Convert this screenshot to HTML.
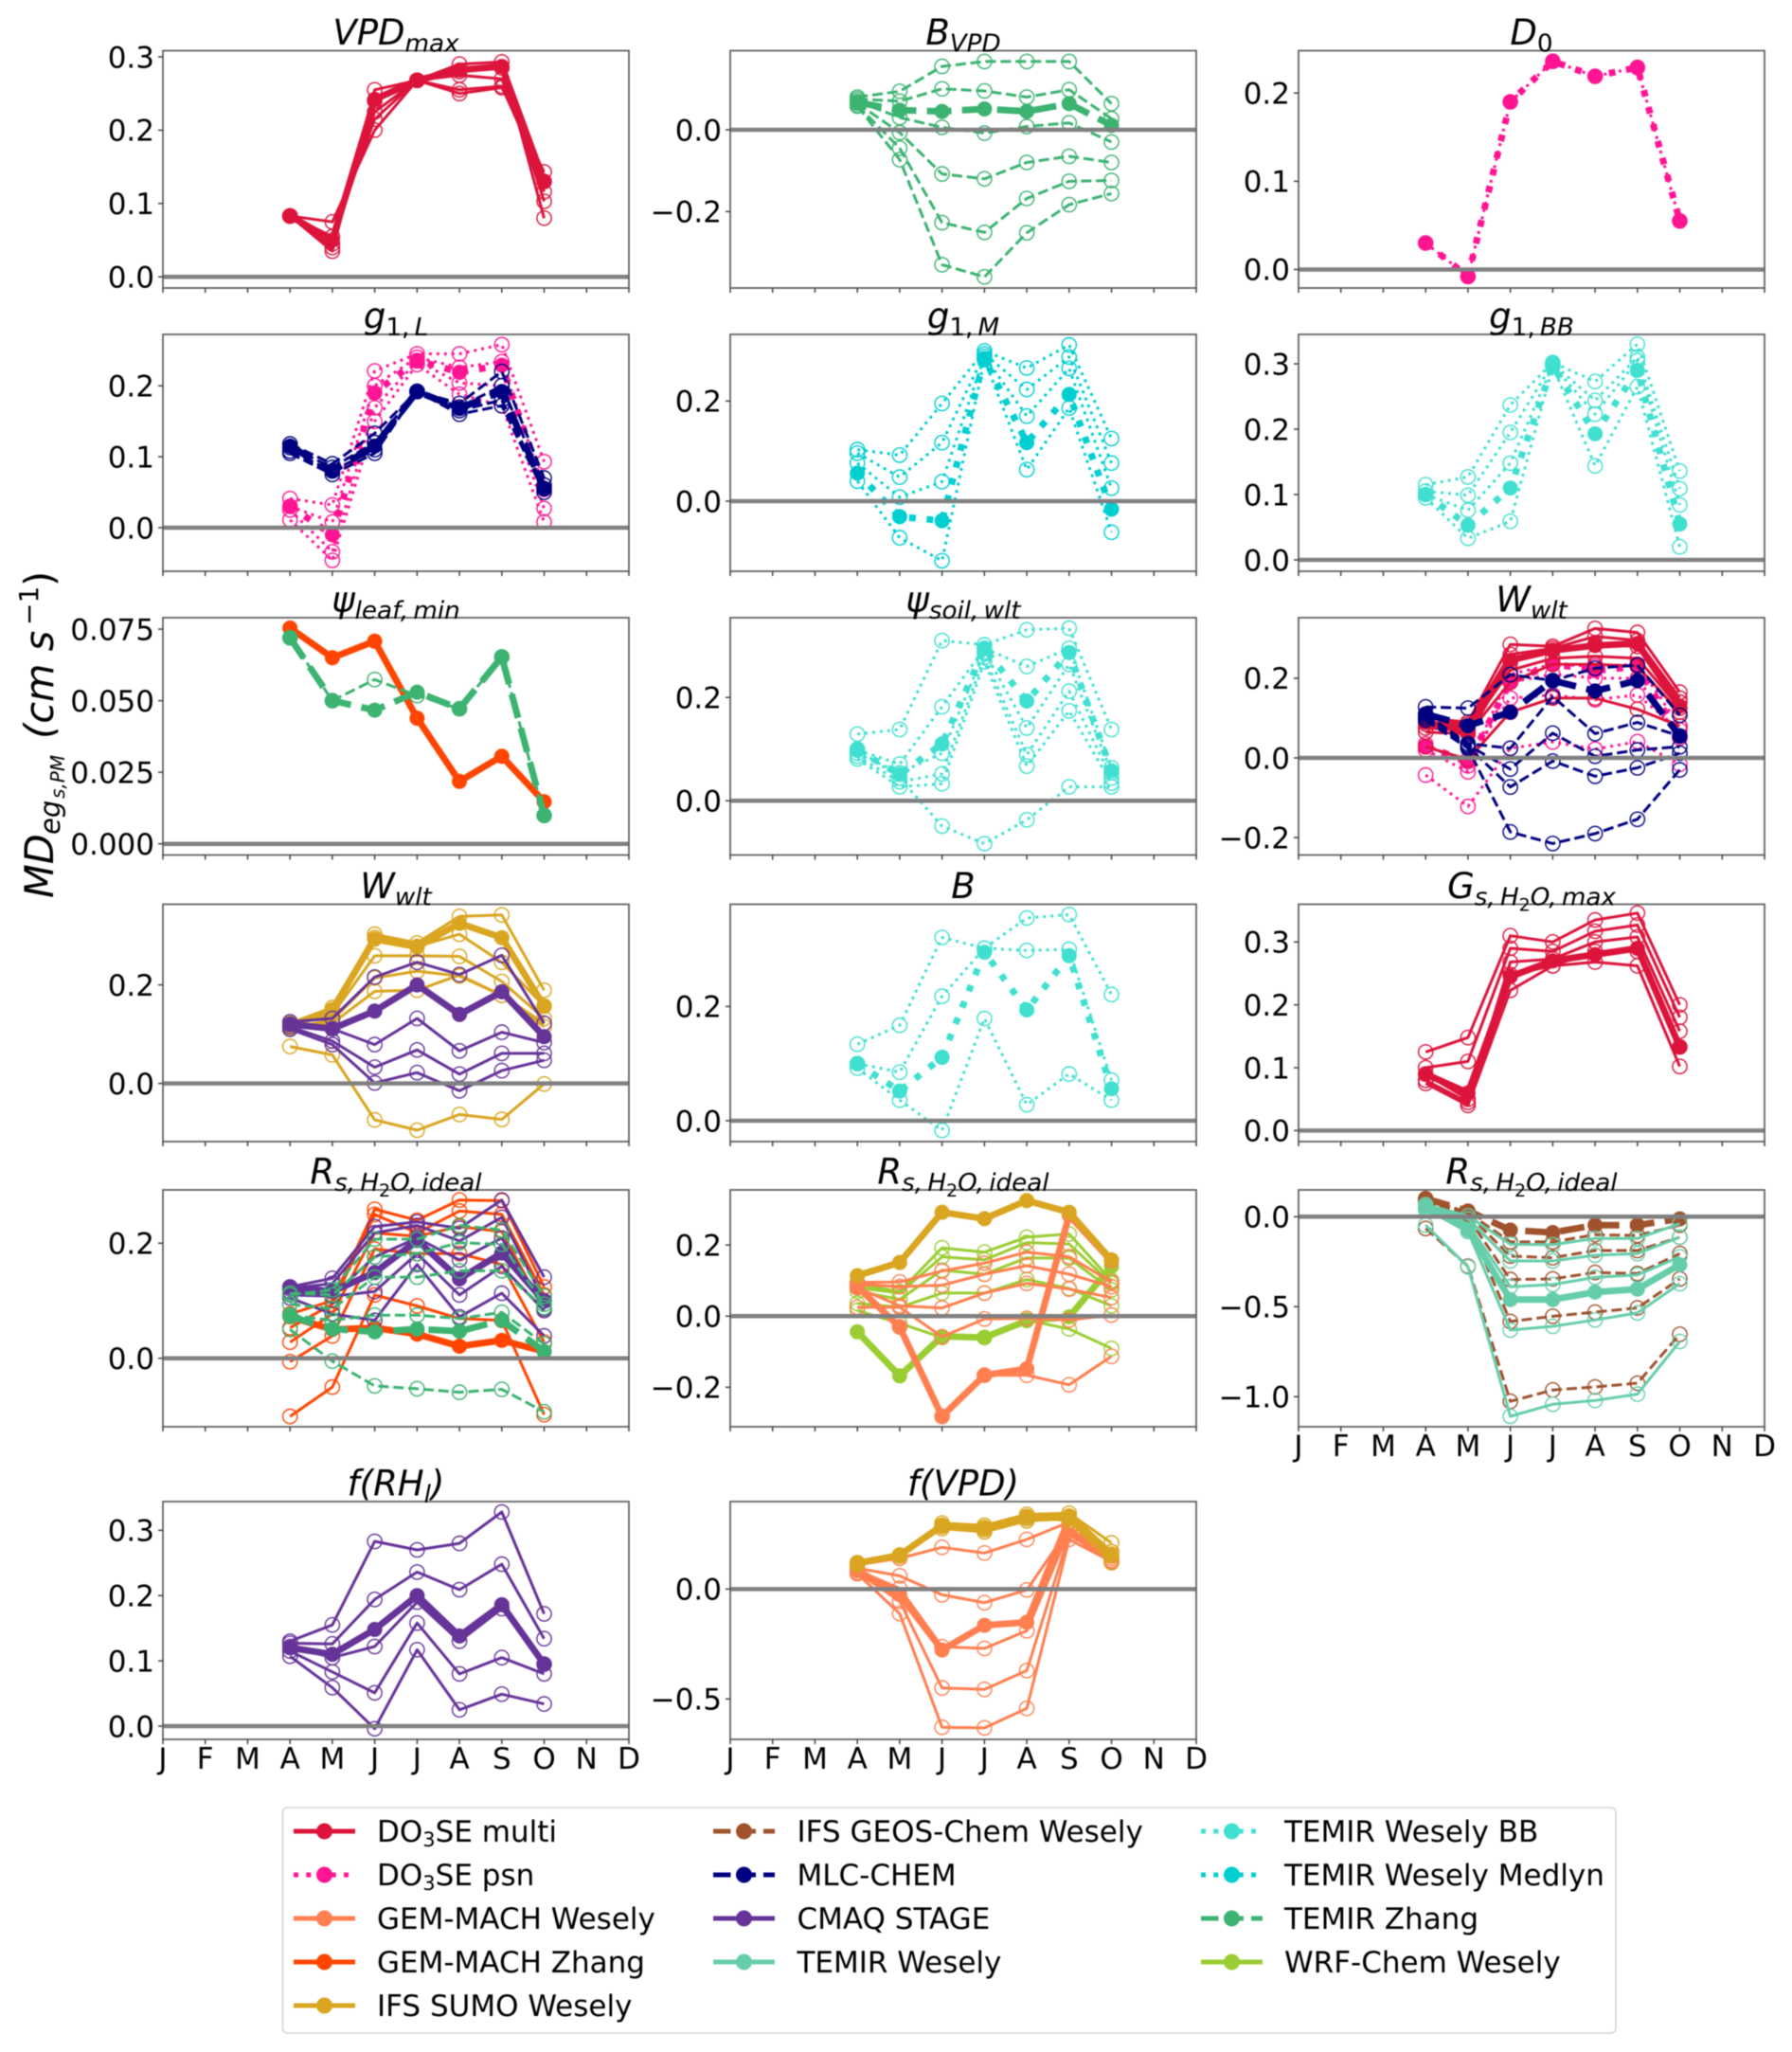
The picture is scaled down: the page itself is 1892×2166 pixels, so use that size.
<!DOCTYPE html>
<html lang="en">
<head>
<meta charset="utf-8">
<title>Monthly MD of stomatal conductance sensitivity panels</title>
<style>
html,body{margin:0;padding:0;background:#fff;}
svg{display:block;font-family:"DejaVu Sans","Liberation Sans",sans-serif;filter:blur(0.45px);}
.lg{font-size:31px;fill:#000;}
</style>
</head>
<body>
<svg id="chart" xmlns="http://www.w3.org/2000/svg" width="1892" height="2166" viewBox="0 0 1892 2166">
<rect width="1892" height="2166" fill="#fff"/>
<g id="panels"></g>

<text transform="translate(56,948) rotate(-90)" font-style="italic" font-size="41.5" fill="#000"><tspan x="0" y="0">MD</tspan><tspan x="67" y="7" font-size="29">eg</tspan><tspan x="105" y="12" font-size="20">s,PM</tspan><tspan x="168" y="0">(cm s</tspan><tspan x="288" y="-16" font-size="28" font-style="normal">−1</tspan><tspan x="329" y="0" font-style="normal">)</tspan></text>

<g>
<rect x="298.5" y="1908" width="1407.5" height="238" rx="5" fill="#fff" stroke="#d4d4d4" stroke-width="1.6"/>
<g><line x1="310" x2="375" y1="1933" y2="1933" stroke="#DC143C" stroke-width="5"/><circle cx="342.5" cy="1933" r="8.5" fill="#DC143C"/><text class="lg" x="398" y="1944">DO<tspan font-size="21" dy="5">3</tspan><tspan dy="-5">SE multi</tspan></text></g>
<g><line x1="310" x2="375" y1="1979" y2="1979" stroke="#FF1493" stroke-width="5" stroke-dasharray="5 8.25"/><circle cx="342.5" cy="1979" r="8.5" fill="#FF1493"/><text class="lg" x="398" y="1990">DO<tspan font-size="21" dy="5">3</tspan><tspan dy="-5">SE psn</tspan></text></g>
<g><line x1="310" x2="375" y1="2025" y2="2025" stroke="#FF7F50" stroke-width="5"/><circle cx="342.5" cy="2025" r="8.5" fill="#FF7F50"/><text class="lg" x="398" y="2036">GEM-MACH Wesely</text></g>
<g><line x1="310" x2="375" y1="2071" y2="2071" stroke="#FF4500" stroke-width="5"/><circle cx="342.5" cy="2071" r="8.5" fill="#FF4500"/><text class="lg" x="398" y="2082">GEM-MACH Zhang</text></g>
<g><line x1="310" x2="375" y1="2117" y2="2117" stroke="#DAA520" stroke-width="5"/><circle cx="342.5" cy="2117" r="8.5" fill="#DAA520"/><text class="lg" x="398" y="2128">IFS SUMO Wesely</text></g>
<g><line x1="753" x2="818" y1="1933" y2="1933" stroke="#A0522D" stroke-width="5" stroke-dasharray="18.5 8"/><circle cx="785.5" cy="1933" r="8.5" fill="#A0522D"/><text class="lg" x="841.5" y="1944">IFS GEOS-Chem Wesely</text></g>
<g><line x1="753" x2="818" y1="1979" y2="1979" stroke="#000080" stroke-width="5" stroke-dasharray="18.5 8"/><circle cx="785.5" cy="1979" r="8.5" fill="#000080"/><text class="lg" x="841.5" y="1990">MLC-CHEM</text></g>
<g><line x1="753" x2="818" y1="2025" y2="2025" stroke="#663399" stroke-width="5"/><circle cx="785.5" cy="2025" r="8.5" fill="#663399"/><text class="lg" x="841.5" y="2036">CMAQ STAGE</text></g>
<g><line x1="753" x2="818" y1="2071" y2="2071" stroke="#66CDAA" stroke-width="5"/><circle cx="785.5" cy="2071" r="8.5" fill="#66CDAA"/><text class="lg" x="841.5" y="2082">TEMIR Wesely</text></g>
<g><line x1="1268" x2="1333" y1="1933" y2="1933" stroke="#40E0D0" stroke-width="5" stroke-dasharray="5 8.25"/><circle cx="1300.5" cy="1933" r="8.5" fill="#40E0D0"/><text class="lg" x="1356" y="1944">TEMIR Wesely BB</text></g>
<g><line x1="1268" x2="1333" y1="1979" y2="1979" stroke="#00CED1" stroke-width="5" stroke-dasharray="5 8.25"/><circle cx="1300.5" cy="1979" r="8.5" fill="#00CED1"/><text class="lg" x="1356" y="1990">TEMIR Wesely Medlyn</text></g>
<g><line x1="1268" x2="1333" y1="2025" y2="2025" stroke="#3CB371" stroke-width="5" stroke-dasharray="18.5 8"/><circle cx="1300.5" cy="2025" r="8.5" fill="#3CB371"/><text class="lg" x="1356" y="2036">TEMIR Zhang</text></g>
<g><line x1="1268" x2="1333" y1="2071" y2="2071" stroke="#9ACD32" stroke-width="5"/><circle cx="1300.5" cy="2071" r="8.5" fill="#9ACD32"/><text class="lg" x="1356" y="2082">WRF-Chem Wesely</text></g>
</g>
</svg>

<script>
/* ---------- shared categories ---------- */
const monthLabels = ['J','F','M','A','M','J','J','A','S','O','N','D'];
const activeMonths = [3,4,5,6,7,8,9];

/* ---------- series values (Apr..Oct) ---------- */
const vpdMaxMultiThin = [
 [.083,.035,.255,.268,.29,.293,.08],
 [.083,.04,.24,.268,.28,.285,.103],
 [.083,.045,.225,.268,.275,.27,.116],
 [.083,.055,.215,.268,.255,.26,.13],
 [.083,.075,.20,.268,.25,.258,.143]];
const vpdMaxMultiBold = [.083,.05,.242,.268,.282,.287,.13];

const bVpdZhangThin = [
 [.08,.094,.155,.167,.167,.167,.064],
 [.075,.07,.10,.095,.08,.098,.027],
 [.07,.03,.006,-.008,.008,.017,-.03],
 [.065,-.007,-.108,-.12,-.08,-.065,-.08],
 [.06,-.045,-.227,-.251,-.168,-.126,-.124],
 [.058,-.073,-.33,-.36,-.252,-.183,-.156]];
const bVpdZhangBold = [.067,.048,.045,.051,.045,.064,.011];

const d0PsnThin = [[.03,-.008,.19,.236,.219,.229,.055]];
const d0PsnBold = [.03,-.008,.19,.236,.219,.229,.055];

const g1LPsnThin = [
 [.041,.032,.221,.245,.245,.258,.093],
 [.03,.008,.2,.24,.226,.234,.054],
 [.025,-.034,.169,.235,.204,.2,.027],
 [.011,-.046,.15,.23,.188,.172,.008]];
const g1LPsnBold = [.03,-.01,.19,.236,.219,.229,.055];
const g1LMlcThin = [
 [.118,.09,.133,.192,.175,.22,.07],
 [.113,.085,.12,.192,.17,.2,.06],
 [.108,.08,.11,.192,.165,.18,.055],
 [.105,.075,.105,.192,.16,.172,.05]];
const g1LMlcBold = [.115,.08,.115,.192,.168,.192,.055];

const g1MMedlynThin = [
 [.103,.092,.195,.3,.266,.312,.125],
 [.096,.048,.117,.294,.223,.288,.076],
 [.076,.008,.039,.289,.17,.265,.026],
 [.04,-.073,-.119,.283,.063,.186,-.062]];
const g1MMedlynBold = [.056,-.031,-.039,.285,.117,.213,-.016];

const g1BbThin = [
 [.115,.127,.237,.302,.273,.33,.136],
 [.105,.099,.195,.3,.244,.31,.109],
 [.1,.076,.148,.298,.223,.305,.084],
 [.095,.033,.059,.296,.144,.265,.02]];
const g1BbBold = [.1,.053,.11,.297,.193,.29,.055];

const psiLeafGemZhangBold = [.0754,.065,.0708,.0439,.0218,.0306,.0147];
const psiLeafTemirZhangThin = [[.072,.05,.0574,.0518,.0472,.0653,.0099]];
const psiLeafTemirZhangBold = [.072,.05,.0467,.053,.0472,.0653,.0099];

const psiSoilBbThin = [
 [.129,.138,.31,.302,.331,.334,.138],
 [.098,.071,.182,.295,.26,.295,.064],
 [.092,.054,.092,.288,.141,.264,.054],
 [.086,.037,.052,.278,.089,.212,.044],
 [.081,.027,.033,.269,.067,.174,.034],
 [.1,.044,-.049,-.083,-.037,.027,.027]];
const psiSoilBbBold = [.098,.051,.11,.294,.193,.287,.058];

const wwltPsnThin = [
 [-.043,-.122,.024,.04,.022,.041,-.016],
 [.028,-.004,.15,.158,.146,.158,.07],
 [.02,-.035,.19,.21,.2,.2,.05],
 [.035,-.02,.21,.235,.23,.235,.08]];
const wwltPsnBold = [.03,-.01,.19,.236,.219,.229,.055];
const wwltMultiThin = [
 [.1,.09,.285,.28,.325,.315,.165],
 [.09,.085,.26,.275,.305,.295,.15],
 [.085,.08,.24,.27,.285,.28,.14],
 [.075,.07,.22,.25,.255,.25,.125],
 [.065,.06,.19,.235,.235,.23,.115],
 [.028,-.004,.115,.15,.15,.122,.08]];
const wwltMultiBold = [.09,.065,.245,.27,.282,.287,.13];
const wwltMlcThin = [
 [.128,.125,.209,.194,.225,.233,.107],
 [.11,.036,.024,.154,.061,.089,.055],
 [.105,.032,-.028,.062,.004,.02,.028],
 [.1,.028,-.073,-.008,-.046,-.025,.012],
 [.095,.024,-.186,-.215,-.19,-.154,-.03]];
const wwltMlcBold = [.11,.081,.115,.194,.168,.194,.055];

const wwltSumoThin = [
 [.122,.154,.303,.285,.339,.342,.189],
 [.118,.147,.296,.278,.303,.246,.157],
 [.116,.14,.259,.259,.258,.207,.132],
 [.112,.129,.214,.228,.218,.179,.122],
 [.11,.122,.187,.189,.22,.179,.115],
 [.075,.058,-.074,-.095,-.063,-.073,-.001]];
const wwltSumoBold = [.118,.15,.293,.277,.325,.296,.157];
const wwltCmaqThin = [
 [.125,.132,.216,.246,.221,.26,.122],
 [.12,.111,.079,.132,.066,.104,.083],
 [.115,.086,.033,.068,.019,.061,.061],
 [.11,.079,.001,.022,-.015,.026,.047]];
const wwltCmaqBold = [.12,.111,.147,.2,.14,.186,.095];

const bBbThin = [
 [.134,.167,.321,.302,.355,.361,.221],
 [.1,.085,.218,.302,.298,.3,.071],
 [.092,.036,-.017,.179,.028,.082,.036]];
const bBbBold = [.1,.052,.111,.295,.194,.289,.056];

const gsMultiThin = [
 [.125,.148,.31,.3,.335,.346,.2],
 [.1,.11,.29,.285,.317,.327,.18],
 [.09,.05,.268,.273,.3,.308,.158],
 [.08,.045,.248,.262,.285,.285,.133],
 [.075,.04,.223,.262,.268,.262,.102]];
const gsMultiBold = [.09,.06,.245,.27,.28,.29,.133];

const rsGemZhangThin = [
 [-.101,-.05,.11,.091,.069,.066,-.098],
 [-.006,.039,.19,.182,.182,.163,.028],
 [.028,.077,.218,.212,.229,.22,.083],
 [.053,.094,.25,.218,.256,.25,.11],
 [.077,.1,.259,.24,.275,.274,.124]];
const rsGemZhangBold = [.072,.05,.053,.042,.021,.031,.012];
const rsCmaqThin = [
 [.124,.139,.229,.237,.226,.275,.141],
 [.121,.13,.218,.231,.204,.245,.1],
 [.116,.11,.176,.209,.171,.209,.086],
 [.11,.108,.116,.182,.11,.16,.083],
 [.105,.077,.066,.163,.072,.113,.039]];
const rsCmaqBold = [.124,.116,.149,.205,.138,.183,.099];
const rsTemirZhangThin = [
 [.11,.119,.207,.207,.231,.223,.108],
 [.113,.11,.176,.182,.201,.198,.094],
 [.094,.086,.141,.141,.152,.152,.088],
 [.075,.066,.075,.075,.069,.08,.025],
 [.05,-.005,-.048,-.053,-.059,-.054,-.093]];
const rsTemirZhangBold = [.073,.051,.046,.051,.047,.066,.012];

const rs2WrfThin = [
 [.09,.069,.192,.18,.222,.231,.1],
 [.08,.065,.167,.158,.207,.203,.092],
 [.07,.047,.129,.118,.164,.163,.074],
 [.036,.025,.065,.065,.103,.078,.029],
 [.016,-.02,-.06,-.06,-.011,-.036,-.091]];
const rs2WrfBold = [-.044,-.168,-.057,-.06,-.013,-.002,.14];
const rs2CoralThin = [
 [.095,.096,.127,.149,.18,.167,.096],
 [.09,.083,.087,.118,.142,.118,.083],
 [.08,.029,.023,.065,.092,.076,.052],
 [.025,.025,-.058,-.008,-.006,-.011,.003],
 [.085,-.03,-.282,-.166,-.166,-.193,-.113]];
const rs2CoralBold = [.083,-.031,-.282,-.166,-.148,.284,.155];
const rs2SumoBold = [.114,.151,.292,.274,.325,.292,.158];

const rs3GeosThin = [
 [.1,.023,-.14,-.14,-.1,-.104,-.047],
 [.093,.014,-.219,-.228,-.188,-.188,-.114],
 [.084,-.004,-.349,-.346,-.31,-.316,-.205],
 [.075,-.03,-.582,-.553,-.53,-.507,-.346],
 [-.065,-.275,-1.026,-.963,-.946,-.925,-.653]];
const rs3GeosBold = [.1,.032,-.074,-.088,-.047,-.047,-.012];
const rs3TemirThin = [
 [.067,.005,-.153,-.156,-.121,-.121,-.039],
 [.058,-.012,-.246,-.246,-.214,-.205,-.114],
 [.049,-.039,-.389,-.377,-.337,-.323,-.223],
 [.04,-.082,-.63,-.609,-.574,-.535,-.372],
 [-.047,-.279,-1.109,-1.042,-1.021,-.986,-.693]];
const rs3TemirBold = [.058,-.074,-.46,-.46,-.419,-.402,-.267];

const fRhCmaqThin = [
 [.13,.155,.283,.27,.28,.328,.172],
 [.127,.126,.194,.236,.209,.248,.134],
 [.122,.105,.122,.19,.13,.18,.095],
 [.115,.083,.051,.158,.08,.105,.08],
 [.107,.059,-.004,.117,.025,.049,.034]];
const fRhCmaqBold = [.12,.11,.148,.2,.138,.186,.095];

const fVpdCoralThin = [
 [.11,.14,.19,.164,.226,.305,.17],
 [.095,.06,-.026,-.062,-.004,.276,.15],
 [.085,.003,-.263,-.27,-.19,.262,.14],
 [.075,-.055,-.45,-.457,-.371,.247,.13],
 [.07,-.112,-.629,-.632,-.543,.226,.125]];
const fVpdCoralBold = [.085,-.026,-.277,-.165,-.151,.319,.15];
const fVpdSumoThin = [
 [.12,.15,.3,.29,.34,.345,.21],
 [.115,.155,.285,.27,.32,.33,.17],
 [.115,.15,.275,.26,.31,.32,.15],
 [.11,.15,.29,.28,.33,.31,.12]];
const fVpdSumoBold = [.118,.154,.29,.276,.326,.333,.16];

/* ---------- model styling ---------- */
const modelStyle = {
  multi:{color:'#DC143C',line:'solid'}, psn:{color:'#FF1493',line:'dot'},
  gemW:{color:'#FF7F50',line:'solid'}, gemZ:{color:'#FF4500',line:'solid'},
  sumo:{color:'#DAA520',line:'solid'}, geos:{color:'#A0522D',line:'dash'},
  mlc:{color:'#000080',line:'dash'}, cmaq:{color:'#663399',line:'solid'},
  temirW:{color:'#66CDAA',line:'solid'}, bb:{color:'#40E0D0',line:'dot'},
  medlyn:{color:'#00CED1',line:'dot'}, temirZ:{color:'#3CB371',line:'dash'},
  wrf:{color:'#9ACD32',line:'solid'}
};

/* ---------- panel layout ---------- */
const columnLeft = [172,771,1371];
const panelWidth = 492;
const rowTop = [53.5,353,652,954.5,1256,1585];
const rowBottom = [304,603,902.5,1205,1506,1836];

/* title parts: [text, level] level 0 main, 1 subscript, 2 sub-subscript */
const panels = [
 {name:'vpd-max',col:0,row:0,title:[['VPD',0],['max',1]],ylim:[-.0152,.3084],ticks:[0,.1,.2,.3],dec:1,
  series:[['multi',vpdMaxMultiThin,vpdMaxMultiBold]]},
 {name:'b-vpd',col:1,row:0,title:[['B',0],['VPD',1]],ylim:[-.387,.1935],ticks:[-.2,0],dec:1,
  series:[['temirZ',bVpdZhangThin,bVpdZhangBold]]},
 {name:'d0',col:2,row:0,title:[['D',0],['0',1,'n']],ylim:[-.021,.248],ticks:[0,.1,.2],dec:1,
  series:[['psn',d0PsnThin,d0PsnBold]]},
 {name:'g1-l',col:0,row:1,title:[['g',0],['1,\u2009',1,'n'],['L',1]],ylim:[-.0614,.2724],ticks:[0,.1,.2],dec:1,
  series:[['psn',g1LPsnThin,g1LPsnBold],['mlc',g1LMlcThin,g1LMlcBold]]},
 {name:'g1-m',col:1,row:1,title:[['g',0],['1,\u2009',1,'n'],['M',1]],ylim:[-.14,.333],ticks:[0,.2],dec:1,
  series:[['medlyn',g1MMedlynThin,g1MMedlynBold]]},
 {name:'g1-bb',col:2,row:1,title:[['g',0],['1,\u2009',1,'n'],['BB',1]],ylim:[-.0174,.345],ticks:[0,.1,.2,.3],dec:1,
  series:[['bb',g1BbThin,g1BbBold]]},
 {name:'psi-leaf-min',col:0,row:2,title:[['ψ',0],['leaf,\u2009min',1]],ylim:[-.0039,.079],ticks:[0,.025,.05,.075],dec:3,
  series:[['gemZ',[],psiLeafGemZhangBold],['temirZ',psiLeafTemirZhangThin,psiLeafTemirZhangBold]]},
 {name:'psi-soil-wlt',col:1,row:2,title:[['ψ',0],['soil,\u2009wlt',1]],ylim:[-.105,.3544],ticks:[0,.2],dec:1,
  series:[['bb',psiSoilBbThin,psiSoilBbBold]]},
 {name:'w-wlt-upper',col:2,row:2,title:[['W',0],['wlt',1]],ylim:[-.2437,.352],ticks:[-.2,0,.2],dec:1,
  series:[['psn',wwltPsnThin,wwltPsnBold],['multi',wwltMultiThin,wwltMultiBold],['mlc',wwltMlcThin,wwltMlcBold]]},
 {name:'w-wlt-lower',col:0,row:3,title:[['W',0],['wlt',1]],ylim:[-.118,.3637],ticks:[0,.2],dec:1,
  series:[['sumo',wwltSumoThin,wwltSumoBold],['cmaq',wwltCmaqThin,wwltCmaqBold]]},
 {name:'b',col:1,row:3,title:[['B',0]],ylim:[-.0365,.379],ticks:[0,.2],dec:1,
  series:[['bb',bBbThin,bBbBold]]},
 {name:'gs-h2o-max',col:2,row:3,title:[['G',0],['s,\u2009H',1],['2',2,'n'],['O,\u2009max',1]],ylim:[-.0175,.36],ticks:[0,.1,.2,.3],dec:1,
  series:[['multi',gsMultiThin,gsMultiBold]]},
 {name:'rs-ideal-a',col:0,row:4,title:[['R',0],['s,\u2009H',1],['2',2,'n'],['O,\u2009ideal',1]],ylim:[-.119,.2927],ticks:[0,.2],dec:1,
  series:[['gemZ',rsGemZhangThin,rsGemZhangBold],['cmaq',rsCmaqThin,rsCmaqBold],['temirZ',rsTemirZhangThin,rsTemirZhangBold]]},
 {name:'rs-ideal-b',col:1,row:4,title:[['R',0],['s,\u2009H',1],['2',2,'n'],['O,\u2009ideal',1]],ylim:[-.311,.355],ticks:[-.2,0,.2],dec:1,
  series:[['wrf',rs2WrfThin,rs2WrfBold],['gemW',rs2CoralThin,rs2CoralBold],['sumo',[],rs2SumoBold]]},
 {name:'rs-ideal-c',col:2,row:4,title:[['R',0],['s,\u2009H',1],['2',2,'n'],['O,\u2009ideal',1]],ylim:[-1.167,.149],ticks:[-1,-.5,0],dec:1,xLabels:true,
  series:[['geos',rs3GeosThin,rs3GeosBold],['temirW',rs3TemirThin,rs3TemirBold]]},
 {name:'f-rh',col:0,row:5,title:[['f(RH',0],['l',1],[')',0]],ylim:[-.0203,.344],ticks:[0,.1,.2,.3],dec:1,xLabels:true,
  series:[['cmaq',fRhCmaqThin,fRhCmaqBold]]},
 {name:'f-vpd',col:1,row:5,title:[['f(VPD)',0]],ylim:[-.684,.398],ticks:[-.5,0],dec:1,xLabels:true,
  series:[['gemW',fVpdCoralThin,fVpdCoralBold],['sumo',fVpdSumoThin,fVpdSumoBold]]}
];

const SVGNS = 'http://www.w3.org/2000/svg';
const root = document.getElementById('panels');
const THIN = 3, BOLD = 7;

function make(tag, parent){
  const el = document.createElementNS(SVGNS, tag);
  parent.appendChild(el);
  return el;
}
function dashFor(line, lw){
  if(line === 'dash') return (3.7*lw)+' '+(1.6*lw);
  if(line === 'dot') return (1*lw)+' '+(1.65*lw);
  return 'none';
}
function formatTick(v, dec){
  const s = Math.abs(v).toFixed(dec);
  return (v < 0 ? '−' : '') + s;
}

panels.forEach(function(p){
  const left = columnLeft[p.col], right = left + panelWidth;
  const top = rowTop[p.row], bottom = rowBottom[p.row];
  const xScale = function(m){ return left + m/11*panelWidth; };
  const yScale = function(v){ return bottom - (v - p.ylim[0])/(p.ylim[1]-p.ylim[0])*(bottom-top); };

  const g = make('g', root);
  
  

  /* series */
  p.series.forEach(function(s){
    const style = modelStyle[s[0]];
    const drawLine = function(values, lw, bold){
      const pts = values.map(function(v,i){ return xScale(activeMonths[i]).toFixed(1)+','+yScale(v).toFixed(1); }).join(' ');
      const line = make('polyline', g);
      
      
      line.setAttribute('points', pts);
      line.setAttribute('fill', 'none');
      line.setAttribute('stroke', style.color);
      line.setAttribute('stroke-width', lw);
      line.setAttribute('stroke-linejoin', 'round');
      const d = dashFor(style.line, lw);
      if(d !== 'none') line.setAttribute('stroke-dasharray', d);
      values.forEach(function(v,i){
        const c = make('circle', g);
        
        
        c.setAttribute('cx', xScale(activeMonths[i]).toFixed(1));
        c.setAttribute('cy', yScale(v).toFixed(1));
        if(bold){
          c.setAttribute('r', 8);
          c.setAttribute('fill', style.color);
        } else {
          c.setAttribute('r', 7.6);
          c.setAttribute('fill', 'none');
          c.setAttribute('stroke', style.color);
          c.setAttribute('stroke-width', 1.4);
        }
      });
    };
    s[1].forEach(function(values){ drawLine(values, THIN, false); });
    drawLine(s[2], BOLD, true);
  });

  /* zero line */
  const zero = make('line', g);
  
  
  zero.setAttribute('x1', left);
  zero.setAttribute('x2', right);
  zero.setAttribute('y1', yScale(0));
  zero.setAttribute('y2', yScale(0));
  zero.setAttribute('stroke', '#808080');
  zero.setAttribute('stroke-width', 4.5);

  /* frame */
  const frame = make('rect', g);
  
  
  frame.setAttribute('x', left);
  frame.setAttribute('y', top);
  frame.setAttribute('width', panelWidth);
  frame.setAttribute('height', bottom-top);
  frame.setAttribute('fill', 'none');
  frame.setAttribute('stroke', '#5c5c5c');
  frame.setAttribute('stroke-width', 1.7);

  /* x ticks */
  monthLabels.forEach(function(label, m){
    const t = make('line', g);
    
    
    t.setAttribute('x1', xScale(m));
    t.setAttribute('x2', xScale(m));
    t.setAttribute('y1', bottom);
    t.setAttribute('y2', bottom+5);
    t.setAttribute('stroke', '#444');
    t.setAttribute('stroke-width', 1.5);
    if(p.xLabels){
      const tx = make('text', g);
      
      
      tx.setAttribute('x', xScale(m));
      tx.setAttribute('y', bottom+31);
      tx.setAttribute('text-anchor', 'middle');
      tx.setAttribute('font-size', '31');
      tx.textContent = label;
    }
  });

  /* y ticks */
  p.ticks.forEach(function(v){
    const t = make('line', g);
    
    
    t.setAttribute('x1', left-5);
    t.setAttribute('x2', left);
    t.setAttribute('y1', yScale(v));
    t.setAttribute('y2', yScale(v));
    t.setAttribute('stroke', '#444');
    t.setAttribute('stroke-width', 1.5);
    const tx = make('text', g);
    
    
    tx.setAttribute('x', left-9);
    tx.setAttribute('y', yScale(v)+11.3);
    tx.setAttribute('text-anchor', 'end');
    tx.setAttribute('font-size', '31');
    tx.textContent = formatTick(v, p.dec);
  });

  /* title */
  const title = make('text', g);
  
  
  title.setAttribute('x', left + panelWidth/2);
  title.setAttribute('y', top-6.5);
  title.setAttribute('text-anchor', 'middle');
  title.setAttribute('font-size', '37');
  let current = 0;
  const offset = [0,7.5,13.5];
  const sizes = [37,26.2,19];
  p.title.forEach(function(part){
    const ts = make('tspan', title);
    ts.setAttribute('dy', offset[part[1]] - current);
    ts.setAttribute('font-size', sizes[part[1]]);
    ts.setAttribute('font-style', part[2] === 'n' ? 'normal' : 'italic');
    ts.textContent = part[0];
    current = offset[part[1]];
  });
});
</script>
</body>
</html>
